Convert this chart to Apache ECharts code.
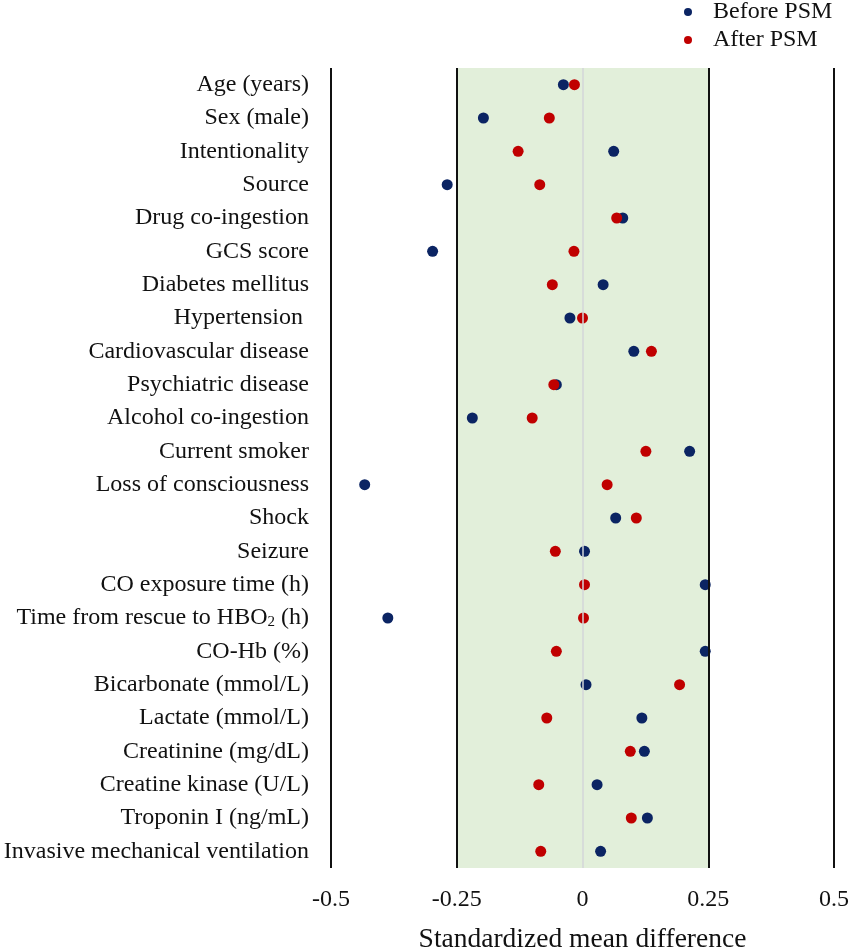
<!DOCTYPE html>
<html>
<head>
<meta charset="utf-8">
<script src="https://cdn.jsdelivr.net/npm/echarts@6/dist/echarts.min.js"></script>
<style>
  html, body { margin: 0; padding: 0; background: #fff; }
  #chart { width: 851px; height: 950px; }
</style>
</head>
<body>
<div id="chart"></div>
<script>
// covariates, top to bottom
var categories = [
    'Age (years)', 'Sex (male)', 'Intentionality', 'Source', 'Drug co-ingestion',
    'GCS score', 'Diabetes mellitus', 'Hypertension ', 'Cardiovascular disease',
    'Psychiatric disease', 'Alcohol co-ingestion', 'Current smoker',
    'Loss of consciousness', 'Shock', 'Seizure', 'CO exposure time (h)',
    'Time from rescue to HBO2 (h)', 'CO-Hb (%)', 'Bicarbonate (mmol/L)',
    'Lactate (mmol/L)', 'Creatinine (mg/dL)', 'Creatine kinase (U/L)',
    'Troponin I (ng/mL)', 'Invasive mechanical ventilation'
];
// standardized mean differences
var beforePSM = [-0.038, -0.197, 0.062, -0.269, 0.080, -0.298, 0.041, -0.025, 0.102,
    -0.052, -0.219, 0.213, -0.433, 0.066, 0.004, 0.244, -0.387, 0.244, 0.007,
    0.118, 0.123, 0.029, 0.129, 0.036];
var afterPSM = [-0.016, -0.066, -0.128, -0.085, 0.068, -0.017, -0.060, 0.000, 0.137,
    -0.057, -0.100, 0.126, 0.049, 0.107, -0.054, 0.004, 0.002, -0.052, 0.193,
    -0.071, 0.095, -0.087, 0.097, -0.083];
var xTicks = [-0.5, -0.25, 0, 0.25, 0.5];
var balanceBand = [-0.25, 0.25];
var seriesNames = ['Before PSM', 'After PSM'];

var FONT = '"Liberation Serif", "Times New Roman", serif';

function pairs(vals) {
    return vals.map(function (v, i) { return [v, categories[i]]; });
}

var chart = echarts.init(document.getElementById('chart'));

// vertical reference lines, zero is drawn light gray
var refLines = xTicks.map(function (t) {
    return {
        xAxis: t,
        lineStyle: t === 0 ? { color: '#d3d6d8', width: 1.5, type: 'solid' }
                           : { color: '#111', width: 2, type: 'solid' }
    };
});

var option = {
    animation: false,
    backgroundColor: '#fff',
    textStyle: { fontFamily: FONT },
    legend: {
        data: seriesNames,
        orient: 'vertical',
        left: 684,
        top: 0,
        padding: 0,
        itemGap: 4,
        itemWidth: 8,
        itemHeight: 8,
        icon: 'circle',
        textStyle: { fontFamily: FONT, fontSize: 24, color: '#111', padding: [0, 0, 0, 16] }
    },
    grid: { left: 331, right: 17, top: 68, bottom: 82, outerBoundsMode: 'none' },
    xAxis: {
        type: 'value',
        min: -0.5,
        max: 0.5,
        interval: 0.25,
        axisLine: { show: false },
        axisTick: { show: false },
        splitLine: { show: false },
        axisLabel: { fontFamily: FONT, fontSize: 24, color: '#111', margin: 20 },
        name: 'Standardized mean difference',
        nameLocation: 'middle',
        nameGap: 58,
        nameTextStyle: { fontFamily: FONT, fontSize: 27.5, color: '#111' }
    },
    yAxis: {
        type: 'category',
        data: categories,
        inverse: true,
        axisLine: { show: false },
        axisTick: { show: false },
        splitLine: { show: false },
        axisLabel: {
            fontFamily: FONT,
            fontSize: 24,
            color: '#111',
            margin: 22,
            formatter: function (v) { return v.replace('HBO2', 'HBO{sub|2}'); },
            rich: {
                sub: { fontFamily: FONT, fontSize: 15, color: '#111', verticalAlign: 'bottom' }
            }
        }
    },
    series: [
        {
            // background band and reference lines only
            name: 'reference',
            type: 'scatter',
            data: [],
            z: 1,
            markArea: {
                silent: true,
                itemStyle: { color: '#e2efda' },
                data: [[{ xAxis: balanceBand[0] }, { xAxis: balanceBand[1] }]]
            },
            markLine: {
                silent: true,
                symbol: 'none',
                label: { show: false },
                data: refLines
            }
        },
        {
            name: seriesNames[0],
            type: 'scatter',
            symbolSize: 11,
            itemStyle: { color: '#0b2463', opacity: 1 },
            data: pairs(beforePSM),
            z: 3
        },
        {
            name: seriesNames[1],
            type: 'scatter',
            symbolSize: 11,
            itemStyle: { color: '#c00000', opacity: 1 },
            data: pairs(afterPSM),
            z: 4
        }
    ]
};

chart.setOption(option);
</script>
</body>
</html>
